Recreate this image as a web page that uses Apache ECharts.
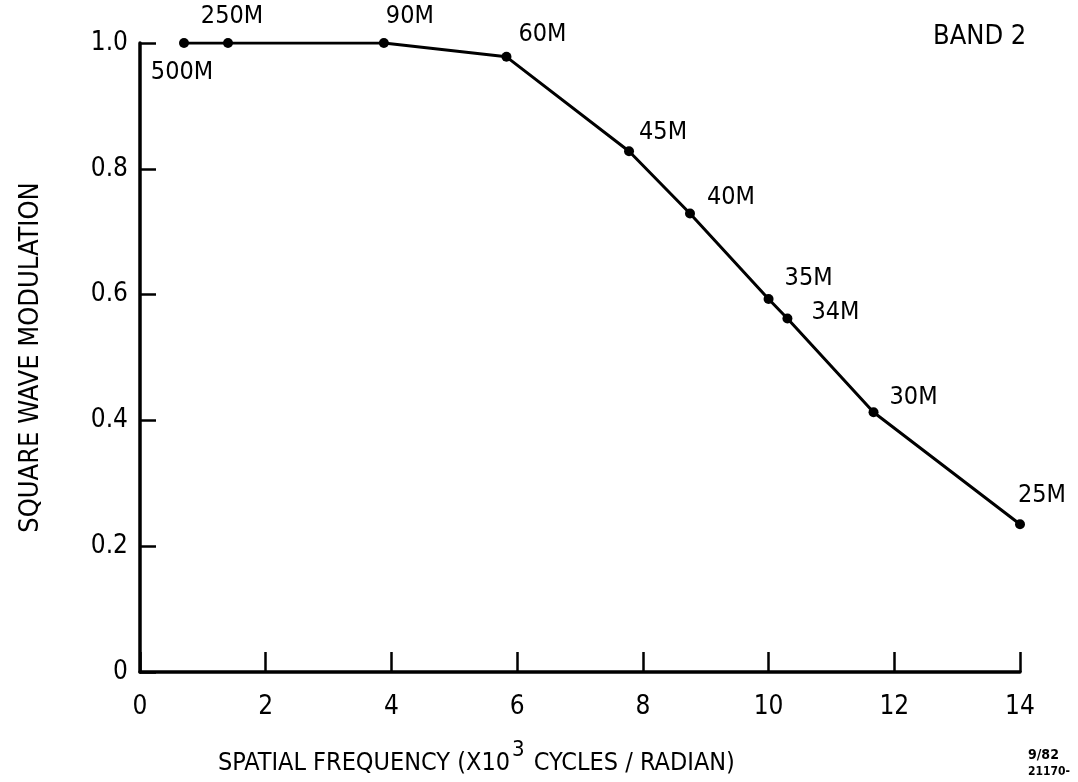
<!DOCTYPE html>
<html>
<head>
<meta charset="utf-8">
<script src="https://cdn.jsdelivr.net/npm/echarts@6/dist/echarts.min.js"></script>
<style>
html, body { margin: 0; padding: 0; background: #fff; }
#main { width: 1078px; height: 782px; }
</style>
</head>
<body>
<div id="main"></div>
<script>
// data
var resLabels = ['500M', '250M', '90M', '60M', '45M', '40M', '35M', '34M', '30M', '25M'];
var freq = [0.70, 1.40, 3.88, 5.83, 7.78, 8.75, 10.0, 10.3, 11.67, 14.0];
var swm = [1.0, 1.0, 1.0, 0.978, 0.828, 0.729, 0.593, 0.562, 0.413, 0.235];
var xTicks = [0, 2, 4, 6, 8, 10, 12, 14];
var yTicks = [0, 0.2, 0.4, 0.6, 0.8, 1.0];

// where each label sits relative to its point
var labelPos = [
    {position: 'bottom', distance: 12, offset: [-2, 0]},
    {position: 'top', distance: 9, offset: [4, 0]},
    {position: 'top', distance: 9, offset: [26, 0]},
    {position: 'right', distance: 7, offset: [0, -22]},
    {position: 'right', distance: 5, offset: [0, -19]},
    {position: 'right', distance: 12, offset: [0, -16]},
    {position: 'right', distance: 11, offset: [0, -21]},
    {position: 'right', distance: 19, offset: [0, -6]},
    {position: 'right', distance: 11, offset: [0, -15]},
    {position: 'top', distance: 11, offset: [22, 0]}
];

var font = "'DejaVu Sans Condensed', 'Liberation Sans Narrow', sans-serif";

var seriesData = [];
for (var i = 0; i < freq.length; i++) {
    seriesData.push({
        value: [freq[i], swm[i]],
        name: resLabels[i],
        label: labelPos[i]
    });
}

var chart = echarts.init(document.getElementById('main'));
var option = {
    backgroundColor: '#fff',
    animation: false,
    grid: {
        left: 140,
        right: 58,
        top: 43,
        bottom: 110
    },
    xAxis: {
        type: 'value',
        min: 0,
        max: 14,
        interval: 2,
        axisLine: {lineStyle: {color: '#000', width: 3.5}},
        axisTick: {inside: true, length: 20, lineStyle: {color: '#000', width: 2.5}},
        axisLabel: {
            margin: 22,
            color: '#000',
            fontSize: 26,
            fontFamily: font
        },
        splitLine: {show: false}
    },
    yAxis: {
        type: 'value',
        min: 0,
        max: 1,
        interval: 0.2,
        name: 'SQUARE WAVE MODULATION',
        nameLocation: 'middle',
        nameGap: 96,
        nameTextStyle: {color: '#000', fontSize: 27, fontFamily: font},
        axisLine: {lineStyle: {color: '#000', width: 3.5}},
        axisTick: {inside: true, length: 16, lineStyle: {color: '#000', width: 2.5}},
        axisLabel: {
            margin: 12,
            color: '#000',
            fontSize: 26,
            fontFamily: font,
            formatter: function (v) {
                return v === 0 ? '0' : v.toFixed(1);
            }
        },
        splitLine: {show: false}
    },
    series: [{
        type: 'line',
        data: seriesData,
        symbol: 'circle',
        symbolSize: 10,
        lineStyle: {color: '#000', width: 3},
        itemStyle: {color: '#000'},
        label: {
            show: true,
            color: '#000',
            fontSize: 25,
            fontFamily: font,
            formatter: '{b}'
        }
    }],
    graphic: [
        {
            type: 'text',
            left: 933,
            top: 23,
            style: {text: 'BAND 2', fill: '#000', fontSize: 27, fontFamily: font}
        },
        {
            type: 'text',
            left: 218,
            top: 739,
            style: {
                text: '{a|SPATIAL FREQUENCY (X10}{s|3}{a| CYCLES / RADIAN)}',
                rich: {
                    a: {fontSize: 25, fontFamily: font, fill: '#000', verticalAlign: 'bottom'},
                    s: {fontSize: 22, fontFamily: font, fill: '#000', verticalAlign: 'top', padding: [0, 2, 15, 2]}
                }
            }
        },
        {
            type: 'text',
            left: 1028,
            top: 748,
            style: {text: '9/82', fill: '#000', fontSize: 14, fontWeight: 'bold', fontFamily: font}
        },
        {
            type: 'text',
            left: 1028,
            top: 766,
            style: {text: '21170-', fill: '#000', fontSize: 12, fontWeight: 'bold', fontFamily: font}
        }
    ]
};
chart.setOption(option);
</script>
</body>
</html>
